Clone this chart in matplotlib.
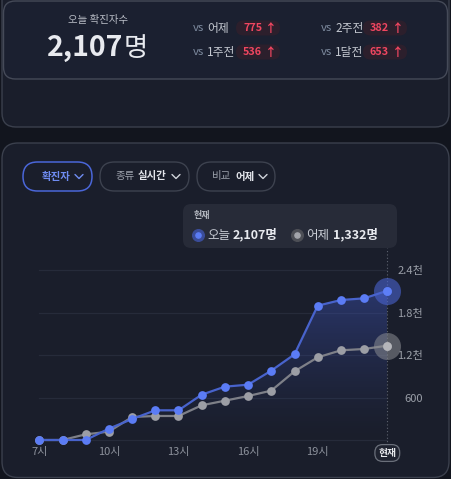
import matplotlib
matplotlib.use("Agg")
import matplotlib.pyplot as plt
import numpy as np
from matplotlib.patches import FancyBboxPatch, Polygon
from matplotlib import transforms

plt.rcParams['font.family'] = ['Noto Sans CJK KR', 'DejaVu Sans']

# ---- data ----
hours = [7, 8, 9, 10, 11, 12, 13, 14, 15, 16, 17, 18, 19, 20, 21, 22]
today = [0, 0, 0, 160, 296, 419, 419, 640, 753, 781, 979, 1209, 1896, 1976, 2000, 2107]
yesterday = [0, 0, 80, 118, 325, 339, 339, 490, 555, 621, 697, 969, 1167, 1266, 1285, 1332]
xtick_hours = [7, 10, 13, 16, 19]
xtick_labels = ['7시', '10시', '13시', '16시', '19시']
ytick_vals = [600, 1200, 1800, 2400]
ytick_labels = ['600', '1.2천', '1.8천', '2.4천']
compare_labels = ['어제', '1주전', '2주전', '1달전']
compare_values = [775, 536, 382, 653]
total_today = 2107
total_yesterday = 1332

W, H = 451, 479
BG = '#12151e'
CARD = '#1a1e2b'
BORDER = '#3b404d'
BLUE = '#5b7cf5'
BLUE_LINE = '#4863cc'
GREY = '#9c9ea5'
GREY_LINE = '#7e8088'

fig = plt.figure(figsize=(W / 100, H / 100), dpi=100)
fig.patch.set_facecolor(BG)

bg = fig.add_axes([0, 0, 1, 1], zorder=0)
bg.set_xlim(0, W)
bg.set_ylim(H, 0)
bg.axis('off')


def rbox(x0, y0, x1, y1, r, fc, ec, lw=1.0, z=1):
    p = FancyBboxPatch((x0 + r, y0 + r), (x1 - x0) - 2 * r, (y1 - y0) - 2 * r,
                       boxstyle=f"round,pad={r}", fc=fc, ec=ec, lw=lw, zorder=z)
    bg.add_patch(p)


# top cards
rbox(2, -30, 449, 127, 14, CARD, BORDER, 1.0, 1)
rbox(3.5, 1, 447.5, 79, 12, '#1b2030', '#454a58', 1.0, 2)
# chart card
rbox(2, 143, 449, 477.5, 16, CARD, BORDER, 1.0, 1)

# headline
bg.text(98, 20, '오늘 확진자수', ha='center', va='center', fontsize=7.5, color='#b9bdc6', zorder=5)
bg.text(123, 48, f'{total_today:,}', ha='right', va='center', fontsize=20.5, fontweight='bold',
        color='#e8eaef', zorder=5)
bg.text(124, 48, '명', ha='left', va='center', fontsize=19, color='#e8eaef', zorder=5)

# comparison badges
pos = [(193, 28, 236), (193, 52, 236), (321, 28, 363), (321, 52, 363)]
for (x, y, bx), lab, val in zip(pos, compare_labels, compare_values):
    bg.text(x, y, 'vs', ha='left', va='center', fontsize=8.2, color='#7d8a9e', zorder=5)
    bg.text(x + 14, y, lab, ha='left', va='center', fontsize=8.5, color='#c4c8d0', zorder=5)
    rbox(bx, y - 7.5, bx + 44, y + 7.5, 7.5, '#2c1f2c', 'none', 0, 4)
    bg.text(bx + 7, y, f'{val}', ha='left', va='center', fontsize=7.8, fontweight='bold',
            color='#f04660', zorder=5)
    bg.text(bx + 29, y, '↑', ha='left', va='center', fontsize=8.5, fontweight='bold',
            color='#f04660', zorder=5)


# filter pills
def chevron(cx, cy, color):
    bg.plot([cx - 4, cx, cx + 4], [cy - 2, cy + 2, cy - 2], color=color, lw=1.0, zorder=6,
            solid_capstyle='round', solid_joinstyle='round')


rbox(23, 162, 92, 191, 14.5, CARD, '#4a66d8', 1.1, 4)
bg.text(42, 176.5, '확진자', ha='left', va='center', fontsize=7.5, fontweight='bold', color='#6f8cf2', zorder=5)
chevron(79, 176.5, '#6f8cf2')

rbox(100, 162, 189, 191, 14.5, CARD, '#3d424f', 1.0, 4)
bg.text(116, 176.5, '종류', ha='left', va='center', fontsize=7.5, color='#9ca1ab', zorder=5)
bg.text(137.5, 176.5, '실시간', ha='left', va='center', fontsize=7.5, fontweight='bold', color='#e2e4ea', zorder=5)
chevron(176, 176.5, '#d0d3da')

rbox(197, 162, 275, 191, 14.5, CARD, '#3d424f', 1.0, 4)
bg.text(212, 176.5, '비교', ha='left', va='center', fontsize=7.5, color='#9ca1ab', zorder=5)
bg.text(235, 176.5, '어제', ha='left', va='center', fontsize=7.5, fontweight='bold', color='#e2e4ea', zorder=5)
chevron(263, 176.5, '#d0d3da')

# tooltip
rbox(183, 204, 397, 248, 8, '#272b38', 'none', 0, 4)
bg.text(194, 215, '현재', ha='left', va='center', fontsize=6.5, fontweight='bold', color='#b3b7bf', zorder=5)
bg.scatter([198], [235], s=70, color='#3a4c98', zorder=5)
bg.scatter([198], [235], s=14, color=BLUE, zorder=6)
bg.text(207, 235, '오늘', ha='left', va='center', fontsize=9, color='#c9cdd5', zorder=5)
bg.text(233, 235, f'{total_today:,}명', ha='left', va='center', fontsize=9, fontweight='bold',
        color='#e8eaef', zorder=5)
bg.scatter([297], [235], s=70, color='#4d4f56', zorder=5)
bg.scatter([297], [235], s=14, color='#a3a5ab', zorder=6)
bg.text(306, 235, '어제', ha='left', va='center', fontsize=9, color='#c9cdd5', zorder=5)
bg.text(333, 235, f'{total_yesterday:,}명', ha='left', va='center', fontsize=9, fontweight='bold',
        color='#e8eaef', zorder=5)

# ---- chart axes ----
L, R, T, B = 25, 400, 255, 445
ax = fig.add_axes([L / W, 1 - B / H, (R - L) / W, (B - T) / H], zorder=2)
ax.patch.set_alpha(0)
px_per_hour = 23.2
x0px = 39.3
xlim = (7 - (x0px - L) / px_per_hour, 7 + (R - x0px) / px_per_hour)
ppv = 42.5 / 600
ylim = (-(B - 440) / ppv, (440 - T) / ppv)
for s in ax.spines.values():
    s.set_visible(False)

# gridlines
for v in [0] + ytick_vals:
    ax.plot([7, 22], [v, v], color='#262b3a', lw=0.9, zorder=1)

# gradient fill under today
poly_pts = [(hours[0], 0)] + list(zip(hours, today)) + [(hours[-1], 0)]
poly = Polygon(poly_pts, closed=True, fc='none', ec='none')
ax.add_patch(poly)
grad = np.linspace(0, 1, 256).reshape(-1, 1)
rgba = np.zeros((256, 1, 4))
rgba[..., 0] = 0.25
rgba[..., 1] = 0.34
rgba[..., 2] = 0.75
rgba[..., 3] = 0.42 * grad[::-1] ** 1.3
im = ax.imshow(rgba, extent=(hours[0], hours[-1], 0, max(today)), origin='upper', aspect='auto',
               zorder=2, interpolation='bilinear')
im.set_clip_path(poly)
ax.set_xlim(*xlim)
ax.set_ylim(*ylim)

# current vertical dotted line
ax.axvline(22, ymin=0, ymax=(B - 248) / (B - T), color='#5e6370', lw=0.8, ls=(0, (1, 2)),
           clip_on=False, zorder=2)

ax.plot(hours, yesterday, color=GREY_LINE, lw=1.6, zorder=3)
ax.plot(hours, yesterday, 'o', color=GREY, ms=6.3, mec='none', zorder=4)
ax.plot(hours, today, color=BLUE_LINE, lw=1.6, zorder=5)
ax.plot(hours, today, 'o', color=BLUE, ms=6.3, mec='none', zorder=6)
# halos at current point
ax.plot([hours[-1]], [yesterday[-1]], 'o', ms=19.5, color='#8a8c92', alpha=0.55, mec='none',
        clip_on=False, zorder=4)
ax.plot([hours[-1]], [today[-1]], 'o', ms=19.5, color='#4a63d0', alpha=0.6, mec='none',
        clip_on=False, zorder=6)
ax.plot([hours[-1]], [yesterday[-1]], 'o', ms=6.3, color='#b4b5ba', mec='none', clip_on=False, zorder=7)
ax.plot([hours[-1]], [today[-1]], 'o', ms=6.3, color='#5d7ef7', mec='none', clip_on=False, zorder=7)

# ticks
ax.set_xticks(xtick_hours)
ax.set_xticklabels(xtick_labels)
ax.tick_params(axis='x', length=0, pad=1.5, labelsize=8, labelcolor='#8c919b')
ax.yaxis.tick_right()
ax.set_yticks(ytick_vals)
ax.set_yticklabels(ytick_labels)
ax.tick_params(axis='y', length=0, pad=(423 - R) * 0.72, labelsize=8, labelcolor='#9a9fa8')
for lab in ax.get_yticklabels():
    lab.set_horizontalalignment('right')

# '현재' pill at current hour
trans = transforms.blended_transform_factory(ax.transData, ax.transAxes)
ax.text(22, -(453 - B) / (B - T), '현재', transform=trans, ha='center', va='center', fontsize=7,
        fontweight='bold', color='#e6e8ec', zorder=8, clip_on=False,
        bbox=dict(boxstyle='round,pad=0.35,rounding_size=0.8', fc='#1f2330', ec='#6a6f7a', lw=0.9))

fig.savefig('out.png', dpi=100, facecolor=fig.get_facecolor())
